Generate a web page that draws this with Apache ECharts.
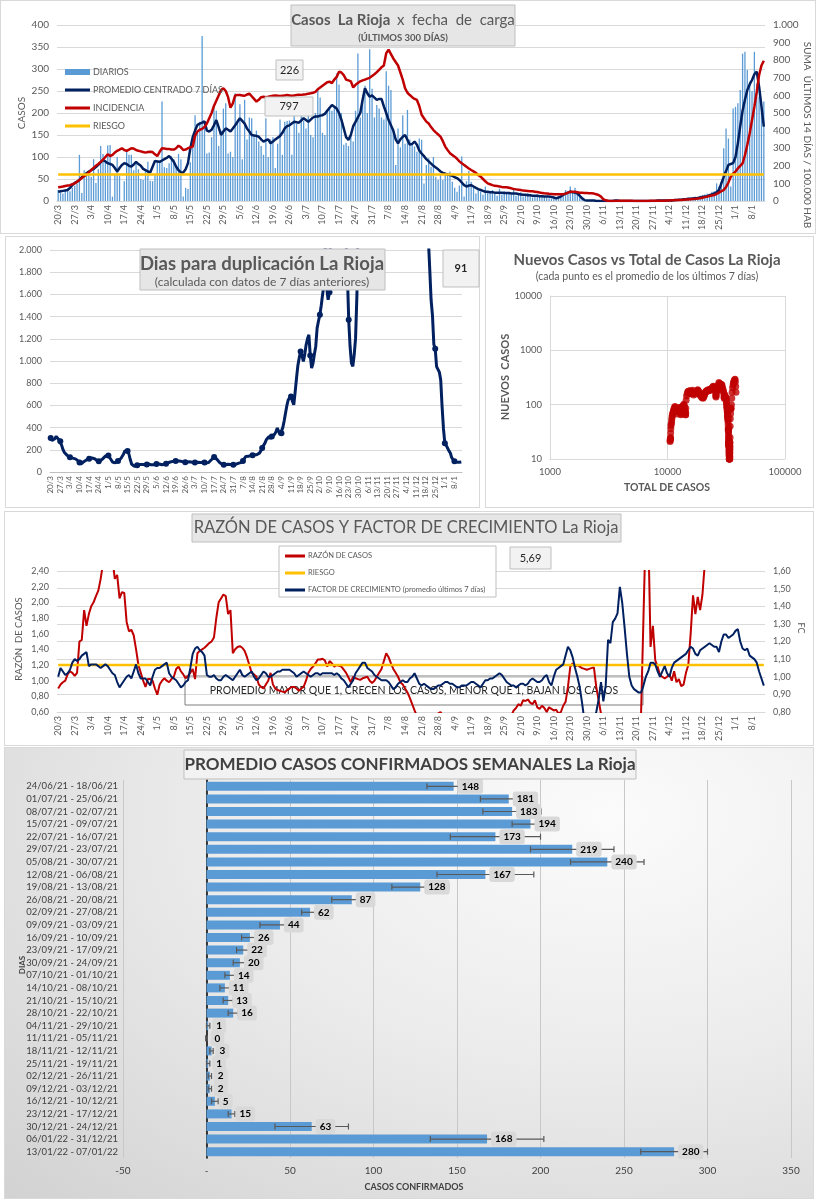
<!DOCTYPE html>
<html><head><meta charset="utf-8">
<script src="https://cdn.jsdelivr.net/npm/echarts@6/dist/echarts.min.js"></script>
<style>
body{margin:0;width:816px;height:1200px;background:#fff;position:relative;overflow:hidden;font-family:Lato,'Liberation Sans',sans-serif}
.f{position:absolute;box-sizing:border-box;border:1px solid #d9d9d9;background:#fff}
.c{position:absolute}
</style></head><body>
<div class="f" style="left:0;top:0;width:816px;height:234px"></div>
<div class="f" style="left:5px;top:236px;width:475px;height:272px"></div>
<div class="f" style="left:485px;top:236px;width:329px;height:272px"></div>
<div class="f" style="left:4px;top:511px;width:810px;height:235px"></div>
<div class="f" style="left:4px;top:747px;width:810px;height:452px;background:radial-gradient(ellipse at 75% 15%,#fbfbfb 0%,#ececec 45%,#d2d2d2 100%)"></div>
<div id="a" class="c" style="left:0;top:0;width:816px;height:234px"></div>
<div id="b" class="c" style="left:5px;top:236px;width:475px;height:272px"></div>
<div id="c" class="c" style="left:485px;top:236px;width:329px;height:272px"></div>
<div id="d" class="c" style="left:4px;top:511px;width:810px;height:235px"></div>
<div id="e" class="c" style="left:4px;top:747px;width:810px;height:452px"></div>
<script>
// ---------- DATA ----------
const FECHA_INICIO = [2021, 2, 20]; // 20/3/2021, 300 días
const N_DIAS = 300;
const diarios = [
25,20,17,24,28,22,30,35,40,105,
18,70,66,62,55,95,41,72,125,107,
88,126,127,10,62,100,58,0,45,112,
105,105,70,85,72,50,48,68,89,46,
45,60,92,88,226,77,75,86,102,95,
80,107,95,10,30,27,88,125,195,160,
180,375,175,108,110,145,215,205,125,160,
210,222,108,112,100,245,185,220,95,230,
140,190,188,150,160,135,125,105,188,100,
140,145,75,130,185,105,180,182,183,105,
195,175,155,200,182,165,205,150,145,200,
255,235,155,150,205,210,205,215,290,265,
200,128,132,125,155,135,205,335,190,240,
262,200,345,255,190,218,210,190,185,295,
262,252,160,82,165,122,195,130,207,140,
130,124,112,142,139,40,82,97,78,100,
55,48,60,48,59,63,67,44,30,21,
35,101,10,45,68,44,33,17,28,21,
14,33,22,18,25,20,12,28,15,22,
18,20,14,25,12,16,20,10,15,18,
14,8,12,15,10,12,9,8,6,5,
5,4,6,10,18,25,20,33,22,30,
15,10,5,2,1,0,2,0,1,0,
0,0,1,0,0,0,2,0,0,0,
0,1,0,0,0,0,1,0,0,0,
0,0,1,0,0,2,0,1,0,1,
2,1,3,2,4,3,5,6,8,7,
10,9,12,14,15,17,16,21,22,40,
33,44,120,165,142,33,210,214,222,252,
335,339,298,271,250,339,267,237,230,226];
const promedio = [
21,22,23,24,25,30,36,41,44,48,
54,59,63,67,70,73,77,82,88,93,
90,86,84,82,75,67,75,82,86,84,
80,78,83,89,84,80,73,70,67,65,
78,91,90,89,92,95,98,102,96,89,
78,70,65,65,72,86,120,145,160,173,
176,178,181,160,158,162,172,184,168,150,
158,165,162,158,165,172,180,188,182,176,
165,158,150,149,148,146,140,135,138,140,
131,135,140,144,148,155,165,170,172,176,
180,179,178,183,188,184,180,185,190,192,
192,194,195,198,205,212,218,214,210,200,
185,165,145,139,150,170,180,190,200,230,
256,245,237,240,235,230,232,232,215,200,
184,172,160,140,131,140,146,150,139,128,
130,135,128,115,108,102,95,90,85,80,
76,72,67,64,62,60,59,57,54,52,
48,42,36,33,35,36,33,30,27,25,
23,21,21,20,20,19,19,19,19,18,
18,18,17,17,17,16,15,14,14,13,
13,12,12,12,11,11,10,10,10,9,
8,6,8,10,14,17,19,21,20,19,
17,12,6,2,1,1,1,1,0,0,
0,0,0,0,0,0,1,1,0,0,
0,0,0,0,0,0,0,0,0,0,
0,0,0,0,1,1,1,1,1,1,
1,2,2,3,3,4,4,5,5,6,
6,7,8,9,10,11,13,15,17,20,
25,40,55,68,82,84,86,100,131,170,
205,230,252,265,275,288,294,260,215,169];
const incidencia = [
78,80,82,85,88,90,95,100,110,120,
130,140,150,163,176,188,200,210,222,235,
250,265,255,262,275,285,292,300,290,285,
292,300,298,290,285,282,278,275,278,280,
278,265,255,280,300,298,296,295,293,292,
300,314,305,290,292,300,305,309,370,395,
405,410,420,440,470,500,540,570,600,630,
640,625,590,530,555,600,602,602,600,598,
605,610,595,580,565,575,590,592,590,592,
595,598,600,598,596,598,600,602,600,598,
600,602,604,603,605,607,610,612,615,620,
635,645,655,665,675,678,670,690,705,735,
730,715,690,685,680,645,660,670,680,685,
690,695,700,710,720,732,745,760,770,840,
860,835,810,790,770,730,690,640,615,602,
590,580,574,540,490,470,451,440,420,403,
390,378,366,340,309,290,272,262,252,240,
225,214,205,195,185,176,168,160,148,138,
125,112,100,95,90,86,85,83,80,78,
78,75,72,68,66,64,62,59,58,57,
56,55,53,51,48,46,44,43,41,40,
38,38,38,38,39,42,47,53,53,52,
50,47,47,46,45,44,44,42,38,34,
25,10,4,1,0,0,0,0,1,1,
1,1,1,1,0,0,0,0,0,0,
0,1,1,1,1,2,2,2,3,3,
4,4,5,5,6,7,8,8,10,11,
12,14,16,19,22,25,28,31,34,40,
48,56,62,80,105,138,155,167,185,200,
214,260,320,384,460,536,620,716,770,797];
const RIESGO_INCIDENCIA = 150;
const duplicacion = [
306,285,276,300,321,310,291,276,240,201,
176,160,150,141,132,128,125,122,118,112,
100,85,72,80,92,100,108,115,120,122,
126,125,120,112,102,96,102,110,120,130,
145,156,148,130,110,90,80,82,90,100,
110,120,135,160,190,201,190,160,110,70,
55,52,55,60,65,68,70,68,65,66,
68,72,70,66,64,66,70,72,75,72,
68,65,66,70,75,80,85,90,95,96,
97,98,100,100,98,96,92,90,88,87,
90,92,90,88,87,86,87,88,86,85,
85,87,85,82,80,86,95,110,125,135,
130,115,100,85,75,68,66,66,68,70,
72,68,66,66,68,70,75,80,85,87,
100,120,140,145,141,145,150,152,155,156,
156,160,170,190,216,240,260,291,300,320,
300,320,336,340,360,396,380,336,350,400,
460,531,600,651,660,681,640,606,720,846,
960,1030,1086,1050,996,1060,1146,1200,1236,1050,
936,980,1060,1131,1296,1360,1416,1500,1600,1686,
2100,1656,1551,1620,2300,2800,3200,3600,4000,4500,
5000,5500,4800,3500,2500,2100,1800,1371,1131,981,
951,1056,1206,1600,2400,3500,5000,8000,9000,9500,
12000,15000,18000,22000,26000,30000,34000,38000,41000,45000,
48000,50000,52000,55000,57000,60000,62000,64000,65000,66000,
60000,52000,45000,38000,30000,24000,19000,15000,12000,9500,
8000,7000,6200,5500,4900,4400,4000,3600,3300,3000,
2800,2600,2450,2300,2200,2100,1830,1550,1410,1150,
1110,950,940,900,830,590,390,260,240,216,
190,171,130,110,96,90,88,87,90,91];
const TOTAL_INICIAL = 10500;
const razon = [
0.9,0.95,0.98,1.0,1.08,1.12,1.1,1.06,1.1,1.5,
1.52,1.9,1.7,1.85,1.95,2.0,2.08,2.15,2.3,2.5,
2.7,2.8,2.7,2.55,2.3,2.35,2.05,2.13,2.12,1.75,
1.63,1.65,1.58,1.4,1.2,1.1,1.0,0.92,1.02,1.02,
1.0,0.9,0.82,0.95,1.0,1.03,1.0,0.98,1.02,1.05,
1.15,1.18,1.12,1.08,1.03,1.06,1.1,1.15,1.02,1.35,
1.38,1.4,1.42,1.45,1.48,1.5,1.55,1.8,2.0,2.05,
2.1,2.08,1.85,1.9,1.35,1.4,1.43,1.44,1.42,1.38,
1.3,1.2,1.1,1.08,1.05,0.95,0.92,0.9,0.95,1.0,
1.1,0.95,0.9,0.88,0.87,0.86,0.85,0.88,0.9,0.92,
0.92,0.9,0.87,0.9,0.92,1.0,1.1,1.15,1.18,1.22,
1.27,1.27,1.28,1.26,1.18,1.25,1.22,1.18,1.2,1.19,
1.18,1.14,1.1,1.04,0.98,1.05,1.03,1.02,1.01,1.03,
1.04,1.05,1.0,0.97,1.0,1.05,1.1,1.15,1.25,1.35,
1.3,1.22,1.15,1.1,1.05,0.98,0.95,0.9,0.85,0.78,
0.7,0.62,0.55,0.5,0.47,0.45,0.43,0.42,0.45,0.5,
0.55,0.58,0.6,0.55,0.5,0.46,0.44,0.42,0.4,0.38,
0.37,0.36,0.35,0.36,0.38,0.4,0.42,0.44,0.45,0.46,
0.47,0.48,0.49,0.5,0.5,0.51,0.52,0.52,0.53,0.54,
0.54,0.55,0.55,0.62,0.65,0.7,0.68,0.75,0.74,0.76,
0.72,0.7,0.75,0.66,0.64,0.68,0.65,0.6,0.66,0.64,
0.62,0.63,0.58,0.6,0.68,0.73,0.92,1.18,1.22,1.18,
1.2,1.18,1.16,1.15,1.14,1.15,1.16,1.17,0.92,0.75,
0.58,0.5,0.45,0.4,0.35,0.3,0.25,0.2,0.15,0.1,
0.05,0.05,0.05,0.1,0.1,0.1,0.1,0.6,1.8,3.0,
3.0,1.43,1.7,1.26,1.18,1.07,1.05,1.03,1.05,1.08,
1.0,1.12,0.98,1.02,0.93,0.95,1.1,1.2,1.6,2.09,
1.85,2.07,1.9,2.1,2.5,2.9,3.3,3.6,3.9,4.2,
4.5,4.8,5.0,5.2,5.4,5.5,5.6,5.7,5.8,5.9,
5.9,5.8,5.9,6.0,5.9,5.8,5.8,5.75,5.7,5.69];
const RIESGO_RAZON = 1.2;
const factorCrec = [
1.0,1.05,1.03,1.01,1.02,1.04,1.08,1.1,1.09,1.1,
1.12,1.13,1.14,1.06,1.07,1.07,1.07,1.06,1.05,1.06,
1.07,1.06,1.04,1.02,1.01,0.97,0.94,0.96,0.98,1.0,
1.01,0.99,1.03,1.07,1.02,0.99,0.99,0.99,0.97,0.95,
1.0,1.04,1.05,1.05,1.06,1.07,1.08,1.02,1.0,0.99,
0.98,0.96,0.94,0.95,0.97,0.98,1.05,1.13,1.16,1.17,
1.15,1.14,1.12,1.01,1.0,1.0,1.01,0.99,0.98,0.98,
1.0,1.01,1.0,0.99,0.98,1.0,1.02,1.04,1.01,1.0,
1.01,1.02,1.03,1.0,0.98,0.99,1.01,1.03,1.02,1.0,
1.0,1.01,1.02,1.03,1.03,1.04,1.04,1.04,1.04,1.03,
1.02,1.0,1.01,1.02,1.03,1.02,1.01,1.0,1.01,1.02,
1.02,1.01,1.02,1.02,1.02,1.02,1.02,1.01,1.02,1.01,
0.99,0.98,0.96,0.94,0.96,0.98,1.02,1.04,1.06,1.08,
1.08,1.05,1.04,1.03,1.01,1.0,0.99,0.98,0.98,0.98,
0.97,0.95,0.93,0.94,0.96,0.97,0.98,0.97,0.97,0.99,
1.0,1.02,0.99,0.96,0.95,0.96,0.95,0.94,0.93,0.93,
0.94,0.95,0.95,0.96,0.97,0.97,0.96,0.96,0.95,0.94,
0.94,0.95,0.95,0.95,0.96,0.97,0.97,0.96,0.95,0.94,
0.96,0.98,0.98,0.99,0.99,1.0,1.01,1.02,1.01,0.99,
0.97,0.96,0.95,0.95,0.94,0.95,0.96,0.96,0.95,0.96,
0.98,0.99,0.98,0.97,0.97,0.98,1.0,1.01,0.97,0.95,
1.0,1.04,1.05,1.06,1.07,1.12,1.17,1.15,1.11,1.05,
1.0,0.94,0.85,0.75,0.7,0.7,0.72,0.76,0.8,0.87,
0.97,0.86,0.95,1.21,1.19,1.31,1.33,1.36,1.51,1.42,
1.28,1.13,1.0,0.95,0.93,0.92,0.91,0.91,0.95,1.0,
1.03,1.08,1.08,1.07,1.03,1.0,1.03,1.06,1.02,1.0,
1.05,1.08,1.09,1.1,1.11,1.12,1.13,1.15,1.17,1.16,
1.13,1.12,1.15,1.16,1.17,1.18,1.19,1.18,1.17,1.17,
1.14,1.2,1.24,1.24,1.22,1.23,1.24,1.26,1.27,1.2,
1.16,1.15,1.16,1.12,1.11,1.1,1.08,1.03,0.99,0.95];
const semanas = [
'24/06/21 - 18/06/21','01/07/21 - 25/06/21','08/07/21 - 02/07/21','15/07/21 - 09/07/21',
'22/07/21 - 16/07/21','29/07/21 - 23/07/21','05/08/21 - 30/07/21','12/08/21 - 06/08/21',
'19/08/21 - 13/08/21','26/08/21 - 20/08/21','02/09/21 - 27/08/21','09/09/21 - 03/09/21',
'16/09/21 - 10/09/21','23/09/21 - 17/09/21','30/09/21 - 24/09/21','07/10/21 - 01/10/21',
'14/10/21 - 08/10/21','21/10/21 - 15/10/21','28/10/21 - 22/10/21','04/11/21 - 29/10/21',
'11/11/21 - 05/11/21','18/11/21 - 12/11/21','25/11/21 - 19/11/21','02/12/21 - 26/11/21',
'09/12/21 - 03/12/21','16/12/21 - 10/12/21','23/12/21 - 17/12/21','30/12/21 - 24/12/21',
'06/01/22 - 31/12/21','13/01/22 - 07/01/22'];
const promSemanal = [148,181,183,194,173,219,240,167,128,87,62,44,26,22,20,14,11,13,16,1,0,3,1,2,2,5,15,63,168,280];
const errSemanal = [16,17,17.5,11,27,25,22,29,17,12,5,12,5,4,4,3,3,3,3,1,0.5,1,1,1,1,2,2,22,34,20];

// ---------- HELPERS ----------
const FONT = "Lato, 'Liberation Sans', sans-serif";
const GRAY = '#595959';
const fechas = [];
for (let i = 0; i < N_DIAS; i++) {
  const d = new Date(Date.UTC(FECHA_INICIO[0], FECHA_INICIO[1], FECHA_INICIO[2] + i));
  fechas.push(d.getUTCDate() + '/' + (d.getUTCMonth() + 1));
}
const fmtMiles = v => { v = Math.round(v); return v >= 1000 ? Math.floor(v/1000) + '.' + String(v%1000).padStart(3,'0') : String(v); };
const fmtComa = v => v.toFixed(2).replace('.', ',');
function boxText(x, y, w, h, text, opts) {
  opts = opts || {};
  return [
    {type:'rect', z:100, shape:{x:x, y:y, width:w, height:h}, style:{fill:opts.fill || '#f2f2f2', stroke:opts.stroke || '#bfbfbf', lineWidth:1}},
    {type:'text', z:101, x:x + w/2, y:y + h/2, style:{text:text, align:'center', verticalAlign:'middle', fontFamily:FONT, fontSize:opts.size || 11, fontWeight:opts.weight || 'normal', fill:opts.color || '#262626'}}
  ];
}
function legendItem(kind, x1, x2, y, color, text, size, h) {
  const icon = kind === 'rect'
    ? {type:'rect', z:102, shape:{x:x1, y:y - h/2, width:x2 - x1, height:h}, style:{fill:color}}
    : {type:'line', z:102, shape:{x1:x1, y1:y, x2:x2, y2:y}, style:{stroke:color, lineWidth:h}};
  return [icon, {type:'text', z:102, x:x2 + 3, y:y, style:{text:text, align:'left', verticalAlign:'middle', fontSize:size, fill:GRAY, fontFamily:FONT}}];
}
const dateAxis = (size) => ({type:'category', data:fechas, boundaryGap:true, axisTick:{show:false},
  axisLine:{lineStyle:{color:'#d9d9d9'}},
  axisLabel:{interval:6, rotate:90, fontSize:size, color:GRAY, fontFamily:FONT, margin:4}});

// ---------- CHART A ----------
const A = echarts.init(document.getElementById('a'));
A.setOption({
  animation:false, textStyle:{fontFamily:FONT},
  grid:{left:57, right:51, top:25, bottom:33},
  xAxis: dateAxis(9),
  yAxis:[
    {type:'value', min:0, max:400, interval:50, axisLabel:{fontSize:10, color:GRAY}, splitLine:{lineStyle:{color:'#d9d9d9'}}},
    {type:'value', min:0, max:1000, interval:100, position:'right', axisLabel:{fontSize:10, color:GRAY, formatter:fmtMiles}, splitLine:{show:false}}
  ],
  series:[
    {name:'DIARIOS', type:'bar', data:diarios, barWidth:1.3, itemStyle:{color:'#5B9BD5'}},
    {name:'PROMEDIO CENTRADO 7 DÍAS', type:'line', data:promedio, symbol:'none', lineStyle:{color:'#002060', width:2.5}},
    {name:'INCIDENCIA', type:'line', yAxisIndex:1, data:incidencia, symbol:'none', lineStyle:{color:'#C00000', width:2.5}},
    {name:'RIESGO', type:'line', yAxisIndex:1, data:fechas.map(() => RIESGO_INCIDENCIA), symbol:'none', lineStyle:{color:'#FFC000', width:2.5}}
  ],
  graphic:[
    {type:'rect', z:100, shape:{x:291, y:5, width:224, height:41}, style:{fill:'#e6e6e6', stroke:'#bfbfbf'}},
    {type:'text', z:101, x:403, y:20, style:{text:'{b|Casos  La Rioja}  {n|x  fecha  de  carga}', align:'center', verticalAlign:'middle',
      rich:{b:{fontSize:15, fontWeight:'bold', fill:GRAY, fontFamily:FONT}, n:{fontSize:15, fill:GRAY, fontFamily:FONT}}}},
    {type:'text', z:101, x:403, y:38, style:{text:'(ÚLTIMOS 300 DÍAS)', align:'center', verticalAlign:'middle', fontSize:9.5, fontWeight:'bold', fill:GRAY, fontFamily:FONT}},
    ...boxText(276, 60, 27, 20, String(diarios[diarios.length-1])),
    ...boxText(265, 97, 48, 19, String(incidencia[incidencia.length-1])),
    ...legendItem('rect', 65, 90, 72, '#5B9BD5', 'DIARIOS', 9, 6),
    ...legendItem('line', 65, 90, 90, '#002060', 'PROMEDIO CENTRADO 7 DÍAS', 9, 3),
    ...legendItem('line', 65, 90, 108, '#C00000', 'INCIDENCIA', 9, 3),
    ...legendItem('line', 65, 90, 126, '#FFC000', 'RIESGO', 9, 3),
    {type:'text', x:22, y:113, rotation:Math.PI/2, style:{text:'CASOS', align:'center', verticalAlign:'middle', fontSize:10, fill:GRAY, fontFamily:FONT}},
    {type:'text', x:807, y:135, rotation:-Math.PI/2, style:{text:'SUMA  ÚLTIMOS 14 DÍAS / 100.000 HAB', align:'center', verticalAlign:'middle', fontSize:10, fill:GRAY, fontFamily:FONT}}
  ]
});

// ---------- CHART B ----------
const B = echarts.init(document.getElementById('b'));
B.setOption({
  animation:false, textStyle:{fontFamily:FONT},
  grid:{left:45, right:18, top:14, bottom:36},
  xAxis: Object.assign(dateAxis(8), {axisLine:{lineStyle:{color:'#bfbfbf'}}}),
  yAxis:{type:'value', min:0, max:2000, interval:200, axisLabel:{fontSize:9, color:GRAY, formatter:fmtMiles}, splitLine:{lineStyle:{color:'#d9d9d9'}}},
  series:[{name:'Dias para duplicación', type:'line', data:duplicacion, clip:true, symbol:'circle', symbolSize:6,
    lineStyle:{color:'#002060', width:3}, itemStyle:{color:'#002060'}}],
  graphic:[
    {type:'rect', z:100, shape:{x:135, y:13, width:245, height:41}, style:{fill:'#e6e6e6', stroke:'#bfbfbf'}},
    {type:'text', z:101, x:257, y:28, style:{text:'Dias para duplicación La Rioja', align:'center', verticalAlign:'middle', fontSize:18.5, fontWeight:'bold', fill:GRAY, fontFamily:FONT}},
    {type:'text', z:101, x:257, y:46, style:{text:'(calculada con datos de 7 días anteriores)', align:'center', verticalAlign:'middle', fontSize:12, fill:GRAY, fontFamily:FONT}},
    ...boxText(438, 14, 36, 37, String(duplicacion[duplicacion.length-1]), {weight:'bold', size:11})
  ]
});

// ---------- CHART C ----------
const acumulado = [];
let tot = TOTAL_INICIAL;
diarios.forEach(v => { tot += v; acumulado.push(tot); });
const puntos = [];
promedio.forEach((p, i) => { if (p > 0) puntos.push([acumulado[i], p]); });
const C = echarts.init(document.getElementById('c'));
C.setOption({
  animation:false, textStyle:{fontFamily:FONT},
  grid:{left:65, right:29, top:60, bottom:49},
  xAxis:{type:'log', logBase:10, min:1000, max:100000, axisTick:{show:false}, axisLine:{lineStyle:{color:'#d9d9d9'}},
    axisLabel:{fontSize:9.5, color:GRAY, formatter:v => String(Math.round(v))}, splitLine:{lineStyle:{color:'#d9d9d9'}}},
  yAxis:{type:'log', logBase:10, min:10, max:10000, axisTick:{show:false}, axisLine:{lineStyle:{color:'#d9d9d9'}},
    axisLabel:{fontSize:9.5, color:GRAY, formatter:v => String(Math.round(v))}, splitLine:{lineStyle:{color:'#d9d9d9'}}},
  series:[{type:'scatter', data:puntos, symbolSize:7, clip:true, itemStyle:{color:'#C00000'}}],
  graphic:[
    {type:'text', x:162, y:24, style:{text:'Nuevos Casos vs Total de Casos La Rioja', align:'center', verticalAlign:'middle', fontSize:15, fontWeight:'bold', fill:GRAY, fontFamily:FONT}},
    {type:'text', x:162, y:41, style:{text:'(cada punto es el promedio de los últimos 7 días)', align:'center', verticalAlign:'middle', fontSize:10.5, fill:GRAY, fontFamily:FONT}},
    {type:'text', x:20, y:141, rotation:Math.PI/2, style:{text:'NUEVOS  CASOS', align:'center', verticalAlign:'middle', fontSize:11, fontWeight:'bold', fill:GRAY, fontFamily:FONT}},
    {type:'text', x:182, y:252, style:{text:'TOTAL DE CASOS', align:'center', verticalAlign:'middle', fontSize:10.5, fontWeight:'bold', fill:GRAY, fontFamily:FONT}}
  ]
});

// ---------- CHART D ----------
const D = echarts.init(document.getElementById('d'));
D.setOption({
  animation:false, textStyle:{fontFamily:FONT},
  grid:{left:53, right:49, top:60, bottom:34},
  xAxis: dateAxis(9),
  yAxis:[
    {type:'value', min:0.6, max:2.4, interval:0.2, axisLabel:{fontSize:9, color:GRAY, formatter:fmtComa}, splitLine:{show:false}},
    {type:'value', min:0.8, max:1.6, interval:0.1, position:'right', axisLabel:{fontSize:9, color:GRAY, formatter:fmtComa}, splitLine:{lineStyle:{color:'#d9d9d9'}}}
  ],
  series:[
    {name:'RAZÓN DE CASOS', type:'line', data:razon, clip:true, symbol:'none', lineStyle:{color:'#C00000', width:2}},
    {name:'RIESGO', type:'line', data:fechas.map(() => RIESGO_RAZON), symbol:'none', lineStyle:{color:'#FFC000', width:2.5}},
    {name:'FACTOR DE CRECIMIENTO (promedio últimos 7 días)', type:'line', yAxisIndex:1, data:factorCrec, clip:true, symbol:'none', lineStyle:{color:'#002060', width:2}}
  ],
  graphic:[
    {type:'rect', z:100, shape:{x:188, y:3, width:429, height:28}, style:{fill:'#e6e6e6', stroke:'#bfbfbf'}},
    {type:'text', z:101, x:402, y:17, style:{text:'RAZÓN DE CASOS Y FACTOR DE CRECIMIENTO La Rioja', align:'center', verticalAlign:'middle', fontSize:16.5, fill:GRAY, fontFamily:FONT}},
    {type:'rect', z:100, shape:{x:275, y:35, width:217, height:51}, style:{fill:'#ffffff', stroke:'#bfbfbf'}},
    ...legendItem('line', 281, 301, 45, '#C00000', 'RAZÓN DE CASOS', 7.5, 3),
    ...legendItem('line', 281, 301, 62, '#FFC000', 'RIESGO', 7.5, 3),
    ...legendItem('line', 281, 301, 79, '#002060', 'FACTOR DE CRECIMIENTO (promedio últimos 7 días)', 7.5, 3),
    ...boxText(506, 36, 41, 22, fmtComa(razon[razon.length-1]), {size:11}),
    {type:'rect', z:1, shape:{x:181, y:165, width:458, height:29}, style:{fill:'none', stroke:'#7f7f7f'}},
    {type:'text', z:1, x:410, y:180, style:{text:'PROMEDIO MAYOR QUE 1, CRECEN LOS CASOS, MENOR QUE 1, BAJAN LOS CASOS', align:'center', verticalAlign:'middle', fontSize:10.5, fill:'#262626', fontFamily:FONT}},
    {type:'text', x:15, y:128, rotation:Math.PI/2, style:{text:'RAZÓN  DE CASOS', align:'center', verticalAlign:'middle', fontSize:9.5, fill:GRAY, fontFamily:FONT}},
    {type:'text', x:797, y:117, rotation:-Math.PI/2, style:{text:'FC', align:'center', verticalAlign:'middle', fontSize:9, fill:GRAY, fontFamily:FONT}}
  ]
});

// ---------- CHART E ----------
const E = echarts.init(document.getElementById('e'));
const errData = promSemanal.map((v, i) => [i, v - errSemanal[i], v + errSemanal[i]]);
E.setOption({
  animation:false, textStyle:{fontFamily:FONT},
  grid:{left:119, right:23, top:33, bottom:41},
  xAxis:{type:'value', min:-50, max:350, interval:50, axisLine:{show:false}, axisTick:{show:false},
    axisLabel:{fontSize:10, color:'#404040', fontFamily:FONT, formatter:v => v === 0 ? '-' : String(v), margin:8},
    splitLine:{lineStyle:{color:'#c8c8c8'}}},
  yAxis:{type:'category', data:semanas, inverse:true, axisTick:{show:false},
    axisLine:{onZero:true, lineStyle:{color:'#000', width:1.5}},
    axisLabel:{interval:0, fontSize:9.5, color:'#404040', fontFamily:FONT, margin:5}},
  series:[
    {type:'bar', data:promSemanal, barWidth:9, z:2, itemStyle:{color:'#5B9BD5'}},
    {type:'custom', z:3, data:errData, encode:{y:0, x:[1,2]},
      renderItem:function(params, api){
        const p1 = api.coord([api.value(1), api.value(0)]);
        const p2 = api.coord([api.value(2), api.value(0)]);
        const st = {stroke:'#595959', lineWidth:1.2};
        return {type:'group', children:[
          {type:'line', shape:{x1:p1[0], y1:p1[1], x2:p2[0], y2:p2[1]}, style:st},
          {type:'line', shape:{x1:p1[0], y1:p1[1]-3, x2:p1[0], y2:p1[1]+3}, style:st},
          {type:'line', shape:{x1:p2[0], y1:p2[1]-3, x2:p2[0], y2:p2[1]+3}, style:st}
        ]};
      }},
    {type:'bar', data:promSemanal, barWidth:9, barGap:'-100%', z:4, itemStyle:{color:'rgba(0,0,0,0)'},
      label:{show:true, position:'right', distance:4, backgroundColor:'#d9d9d9', borderRadius:3, padding:[3,4,2,4],
        fontSize:10, fontWeight:'bold', color:'#000', fontFamily:FONT}}
  ],
  graphic:[
    {type:'rect', z:100, shape:{x:180, y:3, width:452, height:29}, style:{fill:'#f2f2f2', stroke:'#bfbfbf'}},
    {type:'text', z:101, x:406, y:18, style:{text:'PROMEDIO CASOS CONFIRMADOS SEMANALES La Rioja', align:'center', verticalAlign:'middle', fontSize:17, fontWeight:'bold', fill:'#404040', fontFamily:FONT}},
    {type:'text', x:18, y:218, rotation:Math.PI/2, style:{text:'DIAS', align:'center', verticalAlign:'middle', fontSize:8, fontWeight:'bold', fill:'#404040', fontFamily:FONT}},
    {type:'text', x:410, y:440, style:{text:'CASOS CONFIRMADOS', align:'center', verticalAlign:'middle', fontSize:9, fontWeight:'bold', fill:'#404040', fontFamily:FONT}}
  ]
});
</script>
</body></html>
